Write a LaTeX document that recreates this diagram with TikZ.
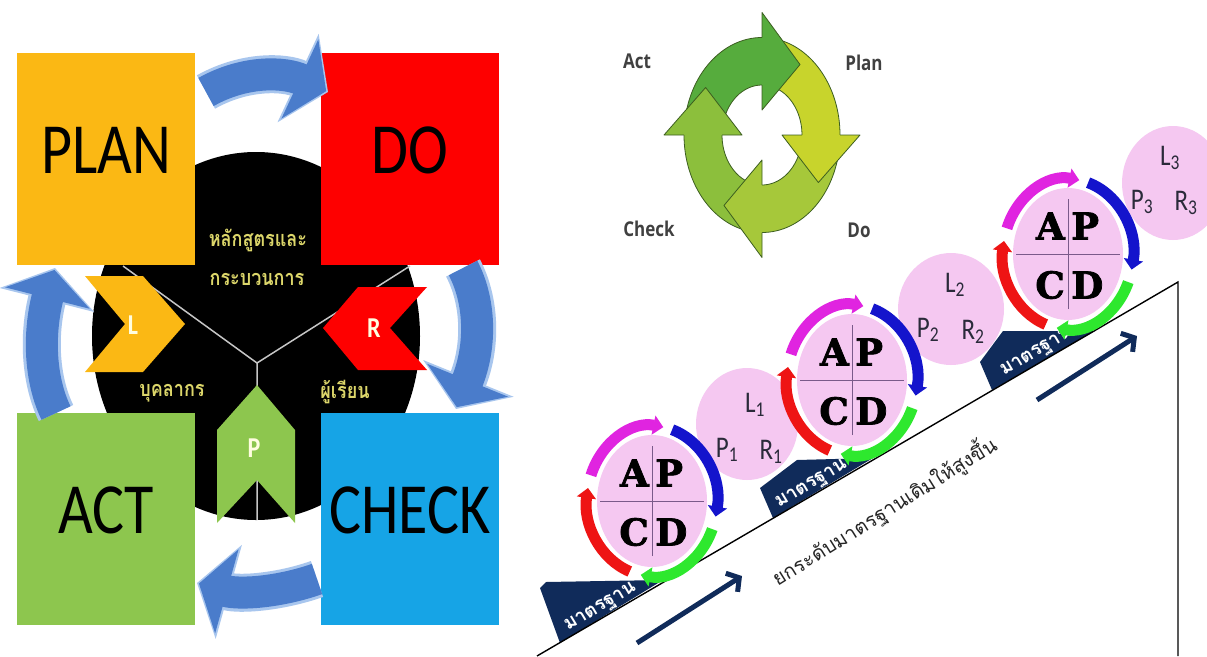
\documentclass[tikz,border=0pt]{standalone}
\usepackage{fontspec}
\setmainfont{Carlito}
\newfontfamily\thaifont[Script=Thai]{Loma}
\newfontfamily\lblfont{Open Sans}
\newfontfamily\apcdfont[BoldFeatures={FakeBold=2}]{DejaVu Serif}
\usetikzlibrary{arrows.meta,calc}
\definecolor{planY}{HTML}{FBB814}
\definecolor{doR}{HTML}{FE0000}
\definecolor{actG}{HTML}{8DC64E}
\definecolor{checkB}{HTML}{16A4E6}
\definecolor{bluearr}{HTML}{4A7CCB}
\definecolor{bluehl}{HTML}{A8C6EE}
\definecolor{thaiY}{HTML}{DCD66A}
\definecolor{pinkc}{HTML}{F5C8F1}
\definecolor{navy}{HTML}{102B5A}
\definecolor{gA}{HTML}{56AC3D}
\definecolor{gB}{HTML}{C8D42C}
\definecolor{gC}{HTML}{A6C83A}
\definecolor{gD}{HTML}{8CBF3C}
\definecolor{gline}{HTML}{3C5E20}
\definecolor{ringM}{HTML}{E024E0}
\definecolor{ringB}{HTML}{1414CC}
\definecolor{ringG}{HTML}{2EE82E}
\definecolor{ringR}{HTML}{EE1414}
\definecolor{crossc}{HTML}{7A5A8A}
\definecolor{lprtext}{HTML}{2A2A3A}
\newcommand\vst[1]{\scalebox{1}[1.2]{#1}}
\begin{document}
\begin{tikzpicture}[x=1pt,y=1pt,
  box/.style={draw=none, minimum width=178pt, minimum height=212pt, inner sep=0pt},
  bigword/.style={font=\fontsize{60}{60}\selectfont, text=black, inner sep=0pt},
  thaiw/.style={font=\thaifont\bfseries\fontsize{18}{20}\selectfont, text=thaiY, inner sep=0pt},
  chevtext/.style={font=\bfseries\fontsize{24}{24}\selectfont, text=white!88!yellow, inner sep=0pt},
  bluehalo/.style={line width=38pt, bluehl, -{Triangle[width=96pt,length=33pt]}},
  bluearrow/.style={line width=32pt, bluearr, shorten >=2pt, -{Triangle[width=86pt,length=29pt]}},
  cyclbl/.style={font=\lblfont\bfseries\fontsize{17}{17}\selectfont, text=black!75, inner sep=0pt},
  lprc/.style={fill=pinkc, draw=none},
  lprt/.style={font=\fontsize{25}{25}\selectfont, text=lprtext, inner sep=0pt},
  mlabel/.style={fill=navy},
  mtext/.style={font=\thaifont\bfseries\fontsize{19}{20}\selectfont, text=white, inner sep=0pt, rotate=31},
  ringarc/.style={line width=11pt, -{Triangle[width=19pt,length=10pt]}},
  apcd/.style={font=\apcdfont\bfseries\fontsize{37}{37}\selectfont, text=black, inner sep=0pt},
  navyarrow/.style={navy, line width=5pt, -{Straight Barb[length=9pt,width=22pt]}}
]
\useasboundingbox (0,0) rectangle (1207,-656);
\fill[white] (0,0) rectangle (1207,-656);

% ---------------- left panel ----------------
\fill[black] (256,-336) ellipse[x radius=164pt, y radius=184pt];
\coordinate (hub) at (257,-363);
\coordinate (yl) at (123,-266);
\coordinate (yr) at (410,-266);
\coordinate (yb) at (257,-520);
\draw[gray!45, line width=1.5pt] (hub) -- (yl) (hub) -- (yr) (hub) -- (yb);

\node[box, fill=planY] (plan) at (106,-159) {};
\node[box, fill=doR] (do) at (410,-159) {};
\node[box, fill=actG] (act) at (106,-519) {};
\node[box, fill=checkB] (check) at (410,-519) {};
\node[bigword] (tplan) at (106,-150) {\vst{PLAN}};
\node[bigword] (tdo) at (410,-150) {\vst{DO}};
\node[bigword] (tact) at (106,-510) {\vst{ACT}};
\node[bigword] (tcheck) at (410,-510) {\vst{CHECK}};

\node[thaiw] (th1) at (258,-240) {\vst{หลักสูตรและ}};
\node[thaiw] (th2) at (257,-279) {\vst{กระบวนการ}};
\node[thaiw] (th3) at (172,-393) {\vst{บุคลากร}};
\node[thaiw] (th4) at (345,-392) {\vst{ผู้เรียน}};

% chevrons
\fill[planY] (85,-276) -- (143,-276) -- (185,-324) -- (143,-372) -- (85,-372) -- (125,-324) -- cycle;
\fill[doR] (358,-287) -- (427,-287) -- (390,-328) -- (427,-370) -- (358,-370) -- (323,-328) -- cycle;
\fill[actG] (257,-385) -- (295,-430) -- (295,-523) -- (257,-480) -- (217,-523) -- (217,-430) -- cycle;
\node[chevtext] (cl) at (133,-325) {\vst{L}};
\node[chevtext] (cr) at (374,-328) {\vst{R}};
\node[chevtext] (cp) at (254,-448) {\vst{P}};

% blue curved arrows
\coordinate (pdA) at (206,-92);  \coordinate (pdB) at (328,-92);
\coordinate (dcA) at (463,-268); \coordinate (dcB) at (456,-409);
\coordinate (caA) at (317,-579); \coordinate (caB) at (197,-583);
\coordinate (apA) at (56,-413);  \coordinate (apB) at (55,-268);
\draw[bluehalo] (pdA) .. controls (245,-70) and (285,-72) .. (pdB);
\draw[bluearrow] (pdA) .. controls (245,-70) and (285,-72) .. (pdB);
\draw[bluehalo] (dcA) .. controls (480,-300) and (482,-345) .. (dcB);
\draw[bluearrow] (dcA) .. controls (480,-300) and (482,-345) .. (dcB);
\draw[bluehalo] (caA) .. controls (280,-592) and (240,-595) .. (caB);
\draw[bluearrow] (caA) .. controls (280,-592) and (240,-595) .. (caB);
\draw[bluehalo] (apA) .. controls (40,-380) and (38,-335) .. (apB);
\draw[bluearrow] (apA) .. controls (40,-380) and (38,-335) .. (apB);

% ---------------- right panel: green cycle ----------------
\coordinate (cyc) at (762,-135);
\foreach \h/\c in {90/gA,0/gB,-90/gC,180/gD}{
  \pgfmathsetmacro\hs{\h+82}
  \pgfmathsetmacro\he{\h-3}
  \filldraw[fill=\c, draw=gline, line width=0.8pt]
    ([shift={(cyc)}]\hs:78pt and 97.5pt)
    arc[start angle=\hs, end angle=\he, x radius=78pt, y radius=97.5pt]
    -- ([shift={(cyc)}]\he:40pt and 50pt)
    arc[start angle=\he, end angle=\hs, x radius=40pt, y radius=50pt] -- cycle;
}
\foreach \h/\c in {90/gA,0/gB,-90/gC,180/gD}{
  \pgfmathsetmacro\ht{\h-34}
  \fill[\c] ([shift={(cyc)}]\h:98pt and 122.5pt) -- ([shift={(cyc)}]\ht:68pt and 85pt) -- ([shift={(cyc)}]\h:20pt and 25pt) -- cycle;
  \draw[gline, line width=0.8pt, line join=round] ([shift={(cyc)}]\h:78pt and 97.5pt) -- ([shift={(cyc)}]\h:98pt and 122.5pt) -- ([shift={(cyc)}]\ht:68pt and 85pt) -- ([shift={(cyc)}]\h:20pt and 25pt) -- ([shift={(cyc)}]\h:40pt and 50pt);
}
\node[cyclbl] (lact) at (637,-61) {\vst{Act}};
\node[cyclbl] (lplan) at (864,-63) {\vst{Plan}};
\node[cyclbl] (lcheck) at (649,-229) {\vst{Check}};
\node[cyclbl] (ldo) at (859,-230) {\vst{Do}};

% ---------------- LPR circles ----------------
\fill[lprc] (747,-424) ellipse[x radius=51pt, y radius=56pt];
\fill[lprc] (951,-309) ellipse[x radius=53pt, y radius=56pt];
\fill[lprc] (1173,-183) ellipse[x radius=51pt, y radius=57pt];
\node[lprt] (l1) at (755,-405) {\vst{L\textsubscript{1}}};
\node[lprt] (p1) at (727,-450) {\vst{P\textsubscript{1}}};
\node[lprt] (r1) at (771,-452) {\vst{R\textsubscript{1}}};
\node[lprt] (l2) at (955,-285) {\vst{L\textsubscript{2}}};
\node[lprt] (p2) at (928,-330) {\vst{P\textsubscript{2}}};
\node[lprt] (r2) at (973,-332) {\vst{R\textsubscript{2}}};
\node[lprt] (l3) at (1170,-158) {\vst{L\textsubscript{3}}};
\node[lprt] (p3) at (1142,-202) {\vst{P\textsubscript{3}}};
\node[lprt] (r3) at (1186,-203) {\vst{R\textsubscript{3}}};

% ---------------- standard labels ----------------
\fill[mlabel] (540,-588) -- (546,-582) -- (663,-580) -- (560,-643) -- cycle;
\node[mtext] (m1) at (601,-608) {มาตรฐาน};
\fill[mlabel] (760,-488) -- (797,-460) -- (873,-458) -- (773,-518) -- cycle;
\node[mtext] (m2) at (812,-485) {มาตรฐาน};
\fill[mlabel] (980,-362) -- (1003,-331) -- (1095,-331) -- (992,-390) -- cycle;
\node[mtext] (m3) at (1037,-353) {มาตรฐาน};

% staircase line
\coordinate (s0) at (537,-656);
\coordinate (s1) at (1178,-282);
\coordinate (s2) at (1178,-656);
\draw[line width=1.4pt] (s0) -- (s1) -- (s2);

% ---------------- APCD groups ----------------
\foreach \cx/\cy in {652/-501, 852/-380, 1068/-254}{
  \begin{scope}[shift={(\cx,\cy)}]
    \fill[pinkc] (0,0) ellipse[x radius=55pt, y radius=66pt];
    \draw[crossc, line width=0.8pt] (-52,0) -- (52,0) (0,-55) -- (0,55);
    \draw[ringM, ringarc] (160:65pt and 75pt) arc[start angle=160, end angle=80, x radius=65pt, y radius=75pt];
    \draw[ringB, ringarc] (72:65pt and 75pt) arc[start angle=72, end angle=-12, x radius=65pt, y radius=75pt];
    \draw[ringG, ringarc] (-22:65pt and 75pt) arc[start angle=-22, end angle=-100, x radius=65pt, y radius=75pt];
    \draw[ringR, ringarc] (-110:65pt and 75pt) arc[start angle=-110, end angle=-190, x radius=65pt, y radius=75pt];
    \node[apcd, anchor=east] at (-3,28) {A};
    \node[apcd, anchor=west] at (3,28) {P};
    \node[apcd, anchor=east] at (-3,-31) {C};
    \node[apcd, anchor=west] at (3,-31) {D};
  \end{scope}
}

% navy arrows and caption
\coordinate (na1) at (637,-643); \coordinate (nb1) at (742,-576);
\coordinate (na2) at (1037,-400); \coordinate (nb2) at (1137,-336);
\draw[navyarrow] (na1) -- (nb1);
\draw[navyarrow] (na2) -- (nb2);
\node[rotate=32, font=\thaifont\fontsize{20}{22}\selectfont, text=black!85, inner sep=0pt] (cap) at (884,-511) {ยกระดับมาตรฐานเดิมให้สูงขึ้น};
\end{tikzpicture}
\end{document}
